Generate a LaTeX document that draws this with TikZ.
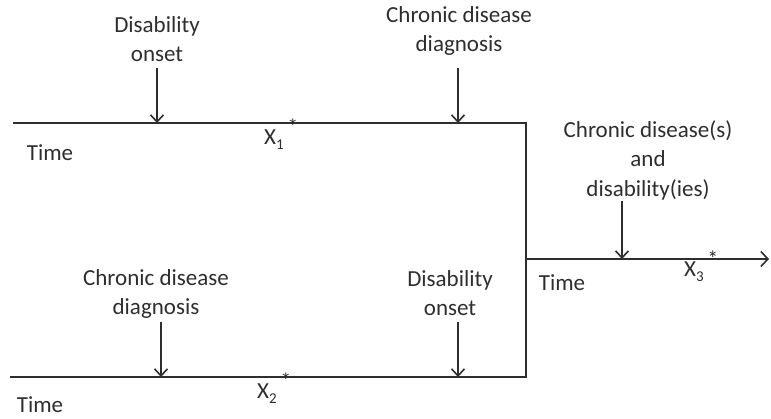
\documentclass[tikz,border=0pt]{standalone}
\usepackage{fontspec}
\setmainfont{Carlito}
\usetikzlibrary{arrows.meta}
\definecolor{ink}{HTML}{2E2E2E}
\tikzset{
  lbl/.style={text=ink, font=\fontsize{23}{29.5}\selectfont, align=center, inner sep=0pt},
  tline/.style={draw=ink, line width=2.2pt},
  evarrow/.style={draw=ink, line width=1.8pt, -{Straight Barb[length=7pt,width=13pt,line width=1.6pt]}},
}
\newcommand{\xvar}[1]{X\raisebox{-0.45ex}{\fontsize{15}{15}\selectfont #1}\raisebox{0.9ex}{\fontsize{22}{22}\selectfont\,*}}
\begin{document}
\begin{tikzpicture}[x=1pt,y=-1pt]
\useasboundingbox (0,0) rectangle (771,418);
% timeline corners
\coordinate (tl) at (13,123);
\coordinate (tr) at (526,123);
\coordinate (bl) at (10,377);
\coordinate (br) at (526,377);
\coordinate (mr) at (526,259);
\coordinate (me) at (769,259);
\draw[tline] (tl) -- (tr) -- (br) -- (bl);
\draw[tline, -{Straight Barb[length=7pt,width=15pt,line width=1.6pt]}] (mr) -- (me);
% event points
\coordinate (p1) at (157,123);
\coordinate (p2) at (458,123);
\coordinate (p3) at (161,377);
\coordinate (p4) at (458,377);
\coordinate (p5) at (622,259);
% labels
\node[lbl] (l1) at (157,39) {Disability\\onset};
\node[lbl] (l2) at (459,31) {Chronic disease\\diagnosis};
\node[lbl] (l3) at (156,294) {Chronic disease\\diagnosis};
\node[lbl] (l4) at (450,293) {Disability\\onset};
\node[lbl] (l5) at (648,160) {Chronic disease(s)\\and\\disability(ies)};
\node[lbl] (t1) at (50,153) {Time};
\node[lbl] (t2) at (40,405) {Time};
\node[lbl] (t3) at (562,283) {Time};
\node[lbl, anchor=west] (x1) at (264,134) {\xvar{1}};
\node[lbl, anchor=west] (x2) at (257,388) {\xvar{2}};
\node[lbl, anchor=west] (x3) at (684,266) {\xvar{3}};
% arrows
\coordinate (a1) at (157,68);
\coordinate (a2) at (458,68);
\coordinate (a3) at (161,322);
\coordinate (a4) at (458,322);
\coordinate (a5) at (622,201);
\draw[evarrow] (a1) -- (p1);
\draw[evarrow] (a2) -- (p2);
\draw[evarrow] (a3) -- (p3);
\draw[evarrow] (a4) -- (p4);
\draw[evarrow] (a5) -- (p5);
\end{tikzpicture}
\end{document}
